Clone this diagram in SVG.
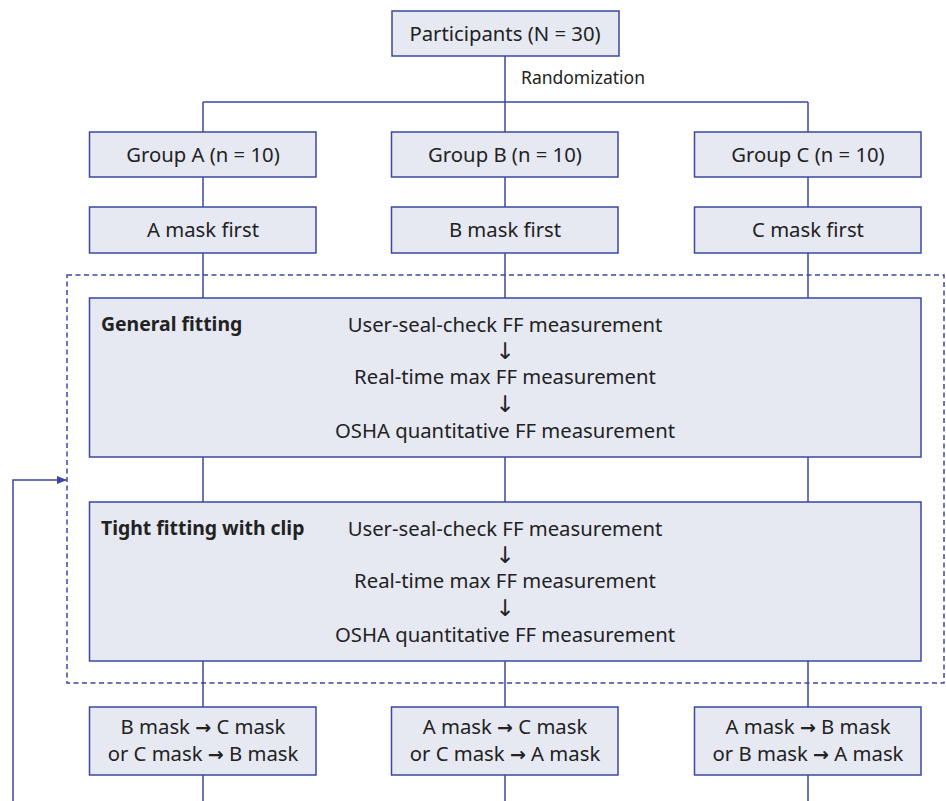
<svg xmlns="http://www.w3.org/2000/svg" width="946" height="801" viewBox="0 0 946 801">
<style>
.box{fill:#e6e9f2;stroke:#3b47a0;stroke-width:1.5}
.ln{fill:none;stroke:#3b47a0;stroke-width:1.5}
.dash{fill:none;stroke:#3b47a0;stroke-width:1.5;stroke-dasharray:5,3.5}
text{font-family:"Noto Sans","Open Sans",sans-serif;font-size:20.3px;fill:#222;text-anchor:middle}
.b{font-weight:bold;text-anchor:start;font-size:19.4px}
.sm{font-size:17.5px;text-anchor:start}
.ar{font-family:"DejaVu Sans",sans-serif;font-size:19px;font-weight:bold}
.dn{font-family:"DejaVu Sans",sans-serif;font-size:23px}
</style>
<defs>
<marker id="arr" markerWidth="10" markerHeight="8" refX="9" refY="4" orient="auto" markerUnits="userSpaceOnUse">
<path d="M0,0 L10,4 L0,8 Z" fill="#3b47a0"/>
</marker>
</defs>
<rect width="946" height="801" fill="#fff"/>
<g id="connectors">
<line class="ln" x1="505" y1="56" x2="505" y2="132"/>
<line class="ln" x1="203" y1="102" x2="808" y2="102"/>
<line class="ln" x1="203" y1="102" x2="203" y2="132"/>
<line class="ln" x1="808" y1="102" x2="808" y2="132"/>
<line class="ln" x1="203" y1="177" x2="203" y2="207"/>
<line class="ln" x1="505" y1="177" x2="505" y2="207"/>
<line class="ln" x1="808" y1="177" x2="808" y2="207"/>
<line class="ln" x1="203" y1="253" x2="203" y2="298"/>
<line class="ln" x1="505" y1="253" x2="505" y2="298"/>
<line class="ln" x1="808" y1="253" x2="808" y2="298"/>
<line class="ln" x1="203" y1="457" x2="203" y2="502"/>
<line class="ln" x1="505" y1="457" x2="505" y2="502"/>
<line class="ln" x1="808" y1="457" x2="808" y2="502"/>
<line class="ln" x1="203" y1="661" x2="203" y2="707"/>
<line class="ln" x1="505" y1="661" x2="505" y2="707"/>
<line class="ln" x1="808" y1="661" x2="808" y2="707"/>
<line class="ln" x1="203" y1="775" x2="203" y2="801"/>
<line class="ln" x1="505" y1="775" x2="505" y2="801"/>
<line class="ln" x1="808" y1="775" x2="808" y2="801"/>
<polyline class="ln" points="13,801 13,480 66,480" marker-end="url(#arr)"/>
<text class="sm" x="521" y="84">Randomization</text>
</g>
<g id="dashed-frame">
<rect class="dash" x="67" y="275" width="877" height="408"/>
</g>
<g id="participants">
<rect class="box" x="392" y="11" width="227" height="45"/>
<text x="505" y="41">Participants (N = 30)</text>
</g>
<g id="groupA">
<rect class="box" x="89.5" y="132" width="226.5" height="45"/>
<text x="203" y="162">Group A (n = 10)</text>
</g>
<g id="groupB">
<rect class="box" x="391.5" y="132" width="226.5" height="45"/>
<text x="505" y="162">Group B (n = 10)</text>
</g>
<g id="groupC">
<rect class="box" x="694.5" y="132" width="226.5" height="45"/>
<text x="808" y="162">Group C (n = 10)</text>
</g>
<g id="maskA">
<rect class="box" x="89.5" y="207" width="226.5" height="46"/>
<text x="203" y="237">A mask first</text>
</g>
<g id="maskB">
<rect class="box" x="391.5" y="207" width="226.5" height="46"/>
<text x="505" y="237">B mask first</text>
</g>
<g id="maskC">
<rect class="box" x="694.5" y="207" width="226.5" height="46"/>
<text x="808" y="237">C mask first</text>
</g>
<g id="general">
<rect class="box" x="89.5" y="298" width="831.5" height="159"/>
<text class="b" x="101" y="331">General fitting</text>
<text x="505" y="332">User-seal-check FF measurement</text>
<text class="dn" x="505" y="359">↓</text>
<text x="505" y="384">Real-time max FF measurement</text>
<text class="dn" x="505" y="412">↓</text>
<text x="505" y="438">OSHA quantitative FF measurement</text>
</g>
<g id="tight">
<rect class="box" x="89.5" y="502" width="831.5" height="159"/>
<text class="b" x="101" y="535">Tight fitting with clip</text>
<text x="505" y="536">User-seal-check FF measurement</text>
<text class="dn" x="505" y="563">↓</text>
<text x="505" y="588">Real-time max FF measurement</text>
<text class="dn" x="505" y="616">↓</text>
<text x="505" y="642">OSHA quantitative FF measurement</text>
</g>
<g id="nextA">
<rect class="box" x="89.5" y="707" width="226.5" height="68"/>
<text x="203" y="734">B mask <tspan class="ar">→</tspan> C mask</text>
<text x="203" y="761">or C mask <tspan class="ar">→</tspan> B mask</text>
</g>
<g id="nextB">
<rect class="box" x="391.5" y="707" width="226.5" height="68"/>
<text x="505" y="734">A mask <tspan class="ar">→</tspan> C mask</text>
<text x="505" y="761">or C mask <tspan class="ar">→</tspan> A mask</text>
</g>
<g id="nextC">
<rect class="box" x="694.5" y="707" width="226.5" height="68"/>
<text x="808" y="734">A mask <tspan class="ar">→</tspan> B mask</text>
<text x="808" y="761">or B mask <tspan class="ar">→</tspan> A mask</text>
</g>
</svg>
